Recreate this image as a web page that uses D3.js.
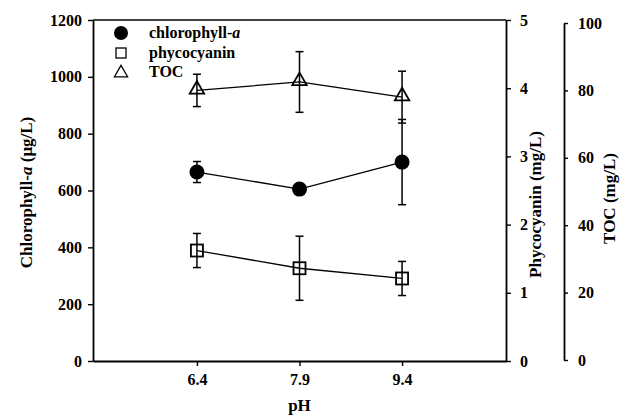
<!DOCTYPE html>
<html>
<head>
<meta charset="utf-8">
<script src="https://cdn.jsdelivr.net/npm/d3@7"></script>
<style>
  body { margin: 0; background: #fff; }
  text { font-family: "Liberation Serif", "Times New Roman", serif; font-weight: bold; }
</style>
</head>
<body>
<div id="chart"></div>
<script>
// pH levels
var ph = [6.4, 7.9, 9.4];

// chlorophyll-a (ug/L), left axis
var chlMean = [665, 605, 700];
var chlErr  = [37, 5, 150];

// phycocyanin (mg/L), first right axis
var phyMean = [1.62, 1.36, 1.21];
var phyErr  = [0.25, 0.47, 0.25];

// TOC (mg/L), second right axis
var tocMean = [80, 82.5, 78];
var tocErr  = [4.8, 9, 7.7];

var chlTicks = [0, 200, 400, 600, 800, 1000, 1200];
var phyTicks = [0, 1, 2, 3, 4, 5];
var tocTicks = [0, 20, 40, 60, 80, 100];

var W = 626, H = 416;
var pLeft = 93, pRight = 506, pTop = 20, pBottom = 361;
var tocX = 564;

var svg = d3.select("#chart").append("svg")
  .attr("width", W).attr("height", H);

var x = d3.scaleLinear().domain([4.88, 10.92]).range([pLeft, pRight]);
var yChl = d3.scaleLinear().domain([0, 1200]).range([pBottom, pTop]);
var yPhy = d3.scaleLinear().domain([0, 5]).range([pBottom, pTop]);
var yToc = d3.scaleLinear().domain([0, 100]).range([pBottom - 1, pTop + 3]);

// frame top line
svg.append("line")
  .attr("x1", pLeft).attr("x2", pRight)
  .attr("y1", pTop).attr("y2", pTop)
  .attr("stroke", "#000").attr("stroke-width", 1.3);

function styleAxis(g) {
  g.select(".domain").attr("stroke-width", 1.8);
  g.selectAll(".tick line").attr("stroke-width", 1.4);
  g.selectAll(".tick text").attr("font-size", "16px")
    .attr("font-family", "Liberation Serif").attr("font-weight", "bold");
}

// x axis
svg.append("g")
  .attr("transform", "translate(0," + pBottom + ")")
  .call(d3.axisBottom(x).tickValues(ph).tickSize(5).tickSizeOuter(0).tickFormat(d3.format(".1f")).tickPadding(8))
  .call(styleAxis);

// left axis
svg.append("g")
  .attr("transform", "translate(" + pLeft + ",0)")
  .call(d3.axisLeft(yChl).tickValues(chlTicks).tickSize(5).tickSizeOuter(0).tickPadding(6).tickFormat(d3.format("d")))
  .call(styleAxis);

// phycocyanin axis
svg.append("g")
  .attr("transform", "translate(" + pRight + ",0)")
  .call(d3.axisRight(yPhy).tickValues(phyTicks).tickSize(5).tickSizeOuter(0).tickPadding(9).tickFormat(d3.format("d")))
  .call(styleAxis);

// TOC axis
svg.append("g")
  .attr("transform", "translate(" + tocX + ",0)")
  .call(d3.axisRight(yToc).tickValues(tocTicks).tickSize(4).tickSizeOuter(0).tickPadding(10).tickFormat(d3.format("d")))
  .call(styleAxis);

// axis titles
var lt = svg.append("text")
  .attr("transform", "translate(32," + ((pTop + pBottom) / 2 + 2) + ") rotate(-90)")
  .attr("text-anchor", "middle").attr("font-size", "17px");
lt.append("tspan").text("Chlorophyll-");
lt.append("tspan").attr("font-style", "italic").text("a");
lt.append("tspan").text(" (\u03bcg/L)");

svg.append("text")
  .attr("transform", "translate(541," + ((pTop + pBottom) / 2 + 14) + ") rotate(-90)")
  .attr("text-anchor", "middle").attr("font-size", "17px")
  .text("Phycocyanin (mg/L)");

svg.append("text")
  .attr("transform", "translate(615," + ((pTop + pBottom) / 2 + 8) + ") rotate(-90)")
  .attr("text-anchor", "middle").attr("font-size", "17px")
  .text("TOC (mg/L)");

svg.append("text")
  .attr("x", (pLeft + pRight) / 2).attr("y", 411)
  .attr("text-anchor", "middle").attr("font-size", "17px")
  .text("pH");

// series drawing
function series(mean, err, yScale) {
  var pts = ph.map(function(p, i) { return {p: p, m: mean[i], e: err[i]}; });
  var g = svg.append("g");
  g.append("path")
    .datum(pts)
    .attr("fill", "none").attr("stroke", "#000").attr("stroke-width", 1.3)
    .attr("d", d3.line().x(function(d) { return x(d.p); }).y(function(d) { return yScale(d.m); }));
  var eb = g.selectAll(".eb").data(pts).enter().append("g");
  eb.append("line")
    .attr("x1", function(d) { return x(d.p); }).attr("x2", function(d) { return x(d.p); })
    .attr("y1", function(d) { return yScale(d.m + d.e); })
    .attr("y2", function(d) { return yScale(d.m - d.e); })
    .attr("stroke", "#000").attr("stroke-width", 1.5);
  [1, -1].forEach(function(s) {
    eb.append("line")
      .attr("x1", function(d) { return x(d.p) - 4; }).attr("x2", function(d) { return x(d.p) + 4; })
      .attr("y1", function(d) { return yScale(d.m + s * d.e); })
      .attr("y2", function(d) { return yScale(d.m + s * d.e); })
      .attr("stroke", "#000").attr("stroke-width", 1.5);
  });
  return {g: g, pts: pts};
}

var chl = series(chlMean, chlErr, yChl);
chl.g.selectAll(".m").data(chl.pts).enter().append("circle")
  .attr("cx", function(d) { return x(d.p); })
  .attr("cy", function(d) { return yChl(d.m); })
  .attr("r", 7.5).attr("fill", "#000");

var phy = series(phyMean, phyErr, yPhy);
phy.g.selectAll(".m").data(phy.pts).enter().append("rect")
  .attr("x", function(d) { return x(d.p) - 6; })
  .attr("y", function(d) { return yPhy(d.m) - 6; })
  .attr("width", 12).attr("height", 12)
  .attr("fill", "none").attr("stroke", "#000").attr("stroke-width", 1.8);

var tri = d3.symbol().type(d3.symbolTriangle).size(90);
var toc = series(tocMean, tocErr, yToc);
toc.g.selectAll(".m").data(toc.pts).enter().append("path")
  .attr("transform", function(d) { return "translate(" + x(d.p) + "," + (yToc(d.m) - 1) + ")"; })
  .attr("d", tri)
  .attr("fill", "none").attr("stroke", "#000").attr("stroke-width", 1.8);

// legend
var legendNames = ["chlorophyll-", "phycocyanin", "TOC"];
var leg = svg.append("g");
var ly = [33, 53, 72];
leg.append("circle").attr("cx", 121).attr("cy", ly[0]).attr("r", 7).attr("fill", "#000");
leg.append("rect").attr("x", 116).attr("y", ly[1] - 5).attr("width", 10).attr("height", 10)
  .attr("fill", "none").attr("stroke", "#000").attr("stroke-width", 1.3);
leg.append("path").attr("transform", "translate(121," + (ly[2] + 1) + ")")
  .attr("d", d3.symbol().type(d3.symbolTriangle).size(75))
  .attr("fill", "none").attr("stroke", "#000").attr("stroke-width", 1.3);
legendNames.forEach(function(n, i) {
  var t = leg.append("text").attr("x", 149).attr("y", ly[i] + 5).attr("font-size", "16px").text(n);
  if (i === 0) t.append("tspan").attr("font-style", "italic").text("a");
});
</script>
</body>
</html>
